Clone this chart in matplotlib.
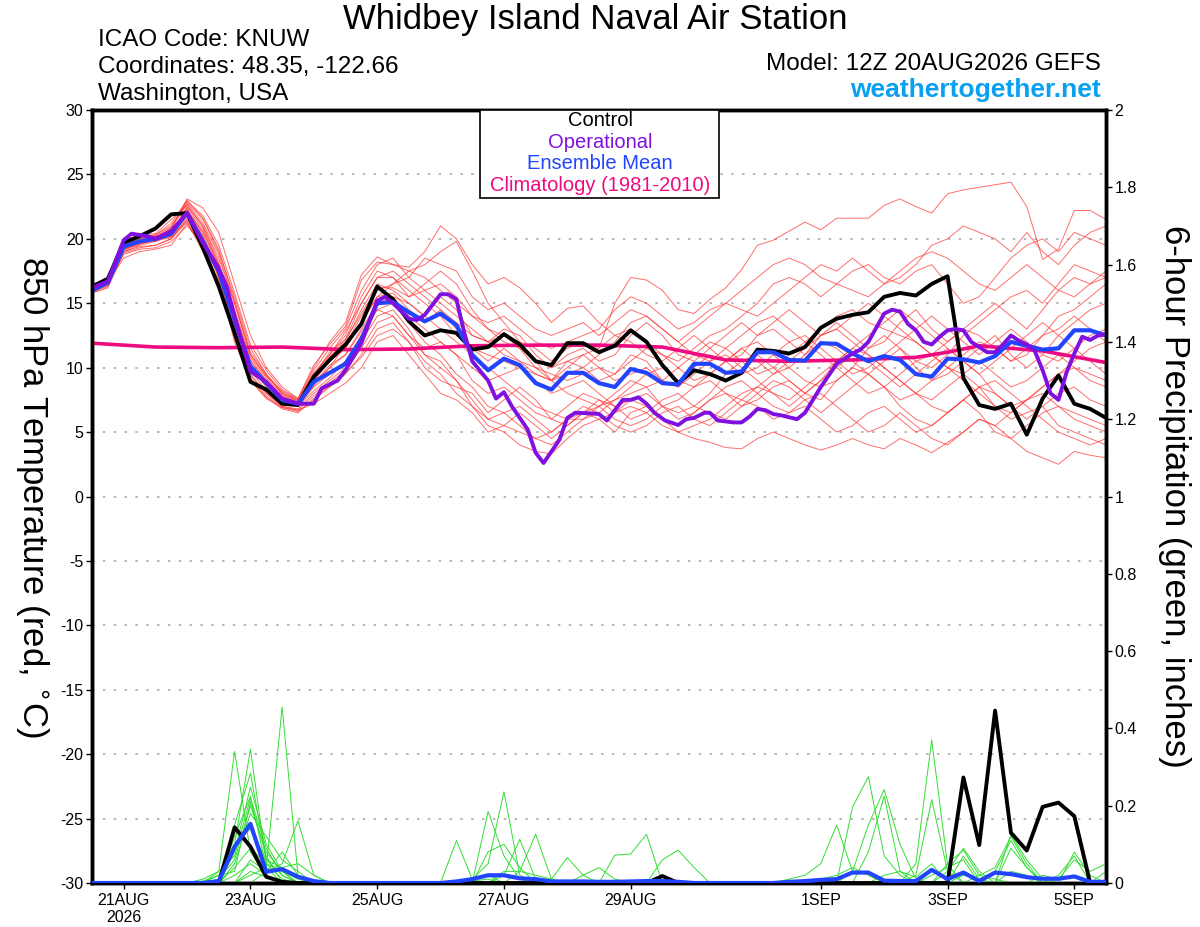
import numpy as np
import matplotlib
matplotlib.use("Agg")
import matplotlib.pyplot as plt
from matplotlib.patches import Rectangle

plt.rcParams["font.family"] = ["Liberation Sans", "DejaVu Sans"]
plt.rcParams["axes.unicode_minus"] = False

# forecast steps: every 6 h from 12Z 20AUG2026
HOURS = np.arange(65) * 6

TICK_HOURS = [12, 60, 108, 156, 204, 276, 324, 372]
TICK_LABELS = ["21AUG\n2026", "23AUG", "25AUG", "27AUG", "29AUG", "1SEP", "3SEP", "5SEP"]

# control run, 850 hPa temperature (C)
control_temp = [
    16.3, 16.9, 19.7, 20.2, 20.8, 21.9, 22.0, 19.3, 16.3, 12.7, 8.9, 8.3, 7.2, 7.1, 9.3,
    10.6, 11.8, 13.4, 16.3, 15.3, 13.6, 12.5, 12.9, 12.7, 11.4, 11.6, 12.6, 11.8, 10.5, 10.2, 11.9,
    11.9, 11.2, 11.7, 12.9, 12.0, 10.2, 8.8, 9.8, 9.5, 9.0, 9.6, 11.4, 11.3, 11.1, 11.6, 13.1, 13.8,
    14.1, 14.3, 15.5, 15.8, 15.6, 16.5, 17.1, 9.2, 7.1, 6.8, 7.2, 4.8, 7.6, 9.4, 7.2, 6.8, 6.1,
]

# ensemble mean, 850 hPa temperature (C)
mean_temp = [
    16.0, 16.6, 19.4, 19.8, 20.0, 20.4, 22.0, 19.8, 17.5, 13.7, 10.1, 8.8, 7.5, 7.2, 8.9,
    9.6, 10.3, 12.2, 15.0, 15.1, 14.3, 13.6, 14.2, 13.3, 11.0, 9.8, 10.7, 10.2, 8.8, 8.3, 9.6,
    9.6, 8.8, 8.5, 9.9, 9.6, 8.8, 8.7, 10.3, 10.3, 9.6, 9.7, 11.2, 11.2, 10.6, 10.55, 11.9, 11.85,
    11.1, 10.5, 10.9, 10.6, 9.5, 9.3, 10.7, 10.65, 10.4, 10.9, 12.0, 11.7, 11.4, 11.5, 12.9, 12.9, 12.5,
]

# operational run (finer time steps)
op_hours = [
    0, 6, 12, 15, 21, 24, 30, 36, 42, 48, 51, 54, 60, 66, 72, 78, 84, 87, 93, 96,
    102, 108, 111, 114, 120, 123, 126, 132, 135, 138, 141, 144, 150, 153, 156, 159, 165, 168, 171, 177,
    180, 183, 189, 192, 195, 201, 204, 207, 210, 213, 217, 222, 225, 228, 232, 234, 237, 243, 246, 249,
    252, 255, 258, 261, 267, 270, 276, 282, 288, 291, 294, 297, 300, 303, 306, 309, 312, 315, 318, 321,
    324, 327, 330, 333, 336, 339, 342, 345, 348, 351, 354, 357, 360, 363, 366, 369, 372, 375, 378, 381, 384,
]
op_temp = [
    16.2, 16.7, 19.9, 20.4, 20.2, 20.0, 20.6, 22.0, 19.7, 17.7, 16.3, 14.0, 9.7, 8.9, 7.6, 7.2, 7.2, 8.4, 9.0, 9.8,
    11.9, 15.2, 15.5, 15.0, 13.8, 13.7, 14.1, 15.7, 15.7, 15.3, 12.7, 10.5, 9.0, 7.6, 8.1, 7.0, 5.2, 3.4, 2.6, 4.4,
    6.1, 6.5, 6.45, 6.4, 5.9, 7.5, 7.5, 7.7, 7.2, 6.5, 5.9, 5.55, 6.0, 6.1, 6.5, 6.5, 5.9, 5.75, 5.75, 6.2,
    6.8, 6.7, 6.4, 6.3, 6.0, 6.5, 8.5, 10.3, 11.1, 11.4, 12.0, 13.1, 14.2, 14.5, 14.35, 13.4, 12.9, 12.0, 11.8, 12.4,
    12.9, 13.0, 12.9, 12.0, 11.6, 11.2, 11.2, 11.8, 12.5, 12.1, 11.8, 11.3, 9.8, 8.0, 7.5, 9.6, 11.1, 12.4, 12.15, 12.5, 12.6,
]

# climatology (1981-2010)
clim_hours = [0, 24, 48, 72, 96, 120, 144, 168, 192, 216, 240, 264, 288, 312, 324, 336, 360, 384]
clim_temp = [11.9, 11.6, 11.55, 11.6, 11.4, 11.45, 11.7, 11.75, 11.75, 11.6, 10.6, 10.5, 10.6, 10.8, 11.2, 11.7, 11.3, 10.4]

# ensemble members, 850 hPa temperature (C)
member_temp = [
    [16.2, 16.8, 19.6, 20.0, 20.3, 21.0, 22.8, 21.5, 19.0, 15.5, 11.5, 9.5, 8.0, 7.4, 9.5,
     11.0, 12.5, 15.5, 17.5, 17.0, 15.5, 16.0, 16.5, 15.5, 14.0, 13.0, 12.5, 12.0, 11.5, 10.5, 11.5,
     12.0, 11.5, 15.0, 17.0, 16.8, 16.0, 14.5, 14.2, 15.3, 16.2, 17.6, 19.5, 19.9, 20.6, 21.3, 20.7, 21.6,
     21.6, 21.6, 22.6, 23.1, 22.5, 22.0, 23.5, 23.8, 24.0, 24.2, 24.4, 22.5, 18.4, 19.2, 22.2, 22.2, 21.5],
    [16.0, 16.5, 19.2, 19.6, 20.0, 20.8, 23.1, 22.4, 20.5, 16.5, 12.5, 10.0, 8.5, 7.6, 10.0,
     12.0, 13.5, 17.2, 18.6, 18.0, 17.8, 19.0, 21.0, 20.0, 18.0, 16.5, 17.0, 16.2, 15.0, 13.5, 14.6,
     14.8, 13.5, 12.5, 13.0, 12.0, 11.0, 10.5, 11.5, 12.5, 13.0, 14.0, 15.0, 16.5, 17.0, 16.5, 15.5, 16.5,
     17.5, 18.0, 17.0, 16.5, 17.5, 18.0, 16.5, 15.0, 15.5, 17.0, 18.5, 19.5, 20.0, 19.0, 20.5, 20.0, 19.5],
    [16.1, 16.7, 19.0, 19.4, 19.5, 20.0, 21.5, 20.0, 17.0, 13.0, 9.5, 8.0, 7.0, 6.8, 8.0,
     9.0, 10.0, 12.0, 14.0, 14.5, 13.0, 11.0, 10.0, 9.0, 7.0, 5.5, 5.0, 4.0, 3.5, 3.3, 4.5,
     5.5, 6.0, 5.0, 6.5, 7.0, 6.0, 5.5, 6.5, 7.5, 8.0, 7.0, 7.5, 8.5, 9.0, 8.0, 7.5, 9.0,
     10.0, 9.5, 8.5, 7.0, 6.0, 5.5, 6.5, 7.5, 6.5, 5.0, 4.5, 5.5, 6.5, 7.0, 6.0, 5.5, 5.0],
    [15.9, 16.4, 19.3, 19.9, 20.1, 20.6, 22.2, 20.5, 17.8, 14.0, 10.5, 9.0, 7.8, 7.3, 9.0,
     10.5, 11.5, 13.5, 15.5, 15.8, 14.5, 13.5, 14.5, 13.0, 11.5, 10.5, 11.5, 10.5, 9.5, 9.0, 10.5,
     10.0, 9.0, 9.5, 11.0, 10.5, 9.0, 8.5, 10.0, 11.0, 10.5, 11.0, 12.5, 13.0, 12.0, 11.0, 12.5, 13.5,
     12.5, 11.5, 12.0, 13.5, 14.5, 13.0, 12.0, 13.0, 14.0, 15.0, 14.0, 13.0, 14.5, 16.0, 17.0, 16.5, 17.5],
    [16.3, 16.9, 19.5, 19.7, 19.8, 20.3, 21.8, 19.5, 17.2, 13.5, 10.0, 8.5, 7.2, 7.0, 8.5,
     9.5, 10.5, 12.5, 14.5, 14.0, 12.5, 11.5, 12.0, 11.0, 9.0, 8.0, 8.5, 7.5, 6.5, 6.0, 7.0,
     8.0, 7.5, 6.5, 7.5, 8.0, 7.0, 6.0, 6.5, 7.5, 8.5, 9.0, 8.0, 7.0, 6.5, 7.5, 8.0, 7.0,
     6.0, 5.0, 5.5, 6.5, 5.5, 4.5, 4.0, 5.0, 6.0, 5.5, 4.5, 3.5, 3.0, 2.5, 3.5, 3.2, 3.0],
    [16.0, 16.6, 18.8, 19.2, 19.3, 19.8, 21.0, 19.6, 16.6, 12.5, 9.2, 7.8, 6.9, 6.6, 7.5,
     8.5, 9.5, 11.0, 13.0, 13.5, 12.0, 10.0, 9.0, 8.5, 8.0, 6.5, 7.5, 8.5, 7.5, 6.0, 5.5,
     6.5, 7.0, 8.0, 9.0, 8.5, 7.0, 6.5, 7.0, 8.0, 9.5, 10.5, 11.0, 10.0, 9.0, 8.0, 9.0, 10.0,
     11.0, 10.5, 9.5, 8.5, 9.5, 10.5, 11.5, 10.5, 9.5, 8.0, 7.0, 7.5, 8.5, 9.5, 10.0, 9.0, 8.5],
    [16.4, 17.0, 19.9, 20.3, 20.4, 21.5, 22.6, 21.0, 18.5, 15.0, 11.0, 9.3, 8.2, 7.5, 9.8,
     11.5, 13.0, 16.0, 18.0, 18.5, 17.0, 18.5, 18.0, 17.5, 15.5, 14.5, 15.0, 14.0, 13.0, 12.5, 13.0,
     13.5, 12.5, 13.5, 14.5, 14.0, 13.0, 12.0, 13.0, 14.0, 15.0, 14.5, 14.0, 15.0, 16.0, 17.0, 18.0, 17.5,
     18.5, 17.5, 16.5, 17.0, 18.0, 19.5, 20.0, 21.0, 20.5, 20.0, 19.0, 20.5, 19.0, 18.0, 19.5, 20.5, 21.0],
    [15.8, 16.3, 19.0, 19.5, 19.8, 20.2, 22.0, 20.2, 17.0, 13.2, 9.8, 8.2, 7.2, 7.0, 8.2,
     9.2, 10.5, 12.5, 14.5, 15.0, 13.5, 12.0, 11.0, 9.5, 8.5, 7.0, 6.5, 5.5, 4.5, 4.0, 5.0,
     6.0, 7.0, 7.5, 8.5, 9.5, 10.0, 9.0, 8.5, 9.5, 10.5, 11.5, 10.5, 9.5, 10.0, 11.0, 12.0, 11.5,
     10.5, 9.5, 10.5, 11.5, 10.0, 9.0, 9.5, 10.5, 11.5, 12.5, 11.0, 10.0, 11.0, 12.5, 13.5, 14.5, 15.0],
    [16.2, 16.8, 19.4, 19.9, 20.2, 20.5, 22.4, 20.8, 18.0, 14.5, 10.8, 9.2, 7.9, 7.3, 9.2,
     10.8, 12.0, 14.5, 16.5, 16.0, 15.0, 14.0, 15.5, 14.5, 12.5, 12.0, 13.0, 12.5, 11.0, 10.0, 11.0,
     11.5, 10.5, 11.0, 12.5, 13.5, 12.5, 11.0, 10.5, 11.5, 12.5, 13.5, 12.5, 13.5, 14.5, 13.5, 12.5, 13.0,
     14.0, 15.0, 14.0, 13.0, 12.0, 11.0, 12.0, 13.0, 12.5, 11.5, 10.5, 11.5, 12.5, 13.0, 14.0, 13.0, 12.0],
    [16.1, 16.6, 18.5, 19.0, 19.2, 19.5, 21.2, 19.4, 16.8, 12.0, 9.0, 7.6, 6.9, 6.7, 7.2,
     8.0, 8.8, 10.0, 12.0, 12.5, 11.0, 9.5, 8.0, 7.5, 6.5, 5.0, 5.5, 6.5, 5.5, 4.5, 5.5,
     6.5, 7.5, 7.0, 6.0, 6.5, 7.5, 8.0, 7.0, 6.5, 6.0, 7.0, 8.0, 9.0, 8.5, 7.5, 6.5, 7.5,
     8.5, 9.5, 8.5, 7.5, 8.0, 9.0, 10.0, 9.5, 8.5, 7.0, 6.0, 6.5, 7.0, 5.5, 5.0, 4.5, 4.0],
    [16.0, 16.5, 19.1, 19.6, 19.9, 20.4, 22.5, 21.0, 18.2, 14.2, 10.3, 8.7, 7.5, 7.1, 8.8,
     10.0, 11.0, 13.0, 15.0, 15.5, 14.0, 13.0, 12.0, 11.0, 10.0, 9.0, 9.5, 10.0, 9.0, 8.0, 8.5,
     9.0, 8.0, 7.0, 7.5, 7.0, 6.0, 5.0, 4.5, 4.2, 3.8, 3.7, 4.5, 5.0, 4.5, 4.0, 3.6, 4.0,
     4.5, 4.0, 3.7, 4.5, 4.0, 3.4, 4.2, 5.0, 6.0, 5.5, 6.5, 7.5, 8.0, 7.0, 6.5, 6.0, 5.5],
    [16.3, 16.9, 19.7, 20.1, 20.2, 20.9, 22.9, 21.8, 19.5, 15.8, 11.8, 9.8, 8.3, 7.6, 10.2,
     11.8, 13.2, 16.8, 18.2, 18.0, 17.5, 17.0, 16.0, 15.0, 14.0, 13.5, 14.0, 13.0, 12.0, 11.5, 12.0,
     12.5, 13.0, 14.5, 15.5, 15.0, 14.0, 13.0, 13.5, 14.5, 15.0, 16.0, 17.0, 18.0, 18.5, 18.0, 17.0, 16.5,
     16.0, 15.5, 16.5, 17.5, 18.5, 19.0, 18.5, 17.5, 16.5, 16.0, 17.0, 18.0, 17.0, 16.0, 15.5, 16.5, 17.0],
    [15.9, 16.4, 19.2, 19.8, 20.0, 20.6, 22.3, 20.3, 17.5, 13.8, 10.2, 8.8, 7.6, 7.1, 8.6,
     10.0, 11.8, 14.0, 16.0, 16.5, 17.5, 18.0, 19.0, 19.8, 17.5, 15.0, 13.5, 12.0, 10.5, 9.0, 8.0,
     7.5, 7.0, 6.0, 5.5, 6.0, 7.0, 7.5, 8.5, 9.0, 8.0, 7.5, 8.5, 9.5, 10.5, 11.5, 12.5, 13.0,
     12.0, 11.0, 10.0, 9.0, 8.0, 7.5, 8.5, 9.5, 10.5, 9.5, 8.5, 9.0, 10.0, 11.0, 10.0, 9.5, 9.0],
    [16.2, 16.7, 19.3, 19.7, 19.9, 20.1, 21.6, 19.8, 17.3, 13.6, 10.0, 8.6, 7.4, 7.0, 8.8,
     10.2, 11.0, 12.8, 14.8, 15.5, 15.0, 14.0, 13.0, 12.0, 11.0, 10.0, 9.0, 8.0, 7.0, 6.5, 6.0,
     6.0, 6.5, 7.5, 8.0, 8.5, 9.0, 10.0, 11.0, 12.0, 11.5, 10.5, 9.5, 10.0, 11.0, 12.0, 13.0, 14.0,
     14.5, 13.5, 13.0, 12.5, 12.0, 11.0, 10.0, 11.0, 12.0, 11.5, 10.5, 11.0, 12.5, 14.0, 14.5, 15.5, 16.5],
    [16.0, 16.6, 19.5, 20.0, 20.1, 20.7, 22.1, 20.0, 17.6, 14.3, 10.6, 9.0, 7.7, 7.2, 9.4,
     11.2, 12.2, 14.2, 16.2, 16.2, 15.5, 16.5, 17.5, 16.5, 14.5, 13.0, 12.0, 11.5, 10.0, 9.5, 9.0,
     9.5, 10.0, 9.5, 10.5, 11.5, 11.0, 10.0, 9.0, 9.5, 10.5, 11.5, 12.0, 11.0, 10.0, 9.0, 8.5, 9.0,
     10.0, 11.5, 12.5, 11.5, 10.5, 10.0, 11.0, 12.5, 13.5, 14.5, 15.5, 16.0, 15.0, 16.5, 18.0, 17.5, 17.0],
    [16.1, 16.8, 19.2, 19.6, 20.0, 20.2, 21.4, 19.2, 16.6, 12.8, 9.4, 8.0, 7.0, 6.7, 7.8,
     8.8, 9.8, 11.5, 13.5, 14.0, 12.5, 11.0, 10.5, 9.0, 7.5, 6.0, 6.5, 7.0, 6.0, 5.0, 6.0,
     7.0, 6.5, 5.5, 5.0, 5.5, 6.5, 7.0, 6.0, 5.5, 6.5, 7.5, 7.0, 6.0, 6.5, 7.0, 6.0, 5.0,
     5.5, 6.5, 7.0, 6.0, 5.0, 5.5, 6.5, 7.5, 8.5, 9.0, 8.0, 7.0, 6.0, 5.0, 4.5, 4.0, 4.5],
    [16.4, 16.9, 19.8, 20.2, 20.3, 21.2, 23.0, 21.6, 19.2, 15.2, 11.2, 9.5, 8.1, 7.5, 9.6,
     11.0, 12.8, 15.0, 17.0, 17.5, 16.5, 15.5, 14.5, 13.5, 12.5, 12.0, 12.5, 11.5, 10.5, 10.0, 10.5,
     11.0, 11.5, 12.5, 12.0, 11.0, 10.5, 11.5, 12.5, 11.5, 10.5, 9.5, 10.0, 11.0, 12.0, 12.5, 11.5, 10.5,
     9.5, 10.0, 11.0, 12.0, 13.0, 14.0, 13.0, 12.0, 11.0, 12.0, 13.0, 12.0, 11.0, 10.5, 11.5, 12.5, 13.0],
    [15.8, 16.2, 18.9, 19.3, 19.5, 20.0, 21.3, 19.0, 16.5, 12.2, 9.0, 7.7, 6.8, 6.5, 7.6,
     8.6, 9.6, 10.8, 12.5, 13.0, 12.0, 10.5, 9.5, 8.0, 7.0, 6.0, 5.5, 5.0, 4.5, 5.0, 6.0,
     6.5, 6.0, 6.5, 7.0, 6.5, 5.5, 5.0, 5.5, 6.0, 7.0, 8.0, 8.5, 8.0, 7.5, 8.5, 9.5, 10.5,
     11.5, 12.5, 13.5, 14.5, 13.5, 12.5, 11.5, 10.5, 9.5, 10.5, 11.5, 12.5, 13.5, 12.5, 11.5, 10.5, 9.5],
    [16.2, 16.7, 19.6, 19.9, 20.1, 20.8, 22.7, 21.2, 18.8, 15.0, 11.0, 9.4, 8.0, 7.4, 9.2,
     10.8, 12.2, 15.0, 17.0, 17.0, 16.0, 15.0, 14.0, 12.5, 11.5, 11.0, 10.5, 10.0, 9.5, 9.0, 10.0,
     11.0, 10.0, 9.0, 9.5, 10.0, 9.0, 8.5, 9.5, 10.5, 11.0, 10.0, 9.0, 8.0, 7.0, 8.0, 9.0, 10.5,
     11.5, 11.0, 10.0, 9.0, 8.0, 7.0, 6.5, 7.5, 8.5, 8.0, 7.0, 6.0, 7.0, 8.0, 8.5, 7.5, 7.0],
    [16.0, 16.5, 19.4, 19.8, 20.0, 20.5, 22.2, 20.6, 18.0, 14.0, 10.3, 8.9, 7.6, 7.2, 9.0,
     10.5, 11.5, 13.5, 15.5, 16.5, 17.0, 16.0, 15.0, 14.0, 13.0, 12.0, 11.0, 10.5, 10.0, 9.0, 9.5,
     10.0, 11.0, 12.0, 13.5, 14.0, 13.0, 12.0, 11.0, 10.5, 11.5, 12.5, 13.5, 14.0, 13.0, 12.0, 11.0, 10.0,
     9.0, 8.0, 8.5, 9.5, 10.5, 11.0, 10.0, 9.0, 8.0, 7.0, 6.5, 7.5, 8.5, 9.5, 10.5, 11.5, 12.0],
]

# 6-hour precipitation (inches): control and ensemble mean, step index -> value
control_precip = {9: 0.144, 10: 0.094, 11: 0.016, 12: 0.003, 36: 0.018,
                  55: 0.273, 56: 0.098, 57: 0.446, 58: 0.13, 59: 0.084, 60: 0.197, 61: 0.208, 62: 0.173}
mean_precip = {8: 0.005, 9: 0.094, 10: 0.153, 11: 0.029, 12: 0.036, 13: 0.016, 14: 0.005,
               23: 0.004, 24: 0.01, 25: 0.02, 26: 0.02, 27: 0.012, 28: 0.01, 29: 0.004, 30: 0.004, 31: 0.004,
               32: 0.003, 33: 0.003, 34: 0.004, 35: 0.005, 36: 0.005, 37: 0.003,
               44: 0.003, 45: 0.005, 46: 0.008, 47: 0.01, 48: 0.027, 49: 0.027, 50: 0.006, 51: 0.005,
               52: 0.005, 53: 0.034, 54: 0.01, 55: 0.027, 56: 0.005, 57: 0.027, 58: 0.023, 59: 0.015,
               60: 0.011, 61: 0.011, 62: 0.017, 63: 0.003, 64: 0.003}

# ensemble members, 6-hour precipitation (inches), step index -> value
member_precip = [
    {7: 0.01, 8: 0.03, 9: 0.34, 10: 0.08, 11: 0.02, 23: 0.11, 24: 0.01, 25: 0.02,
     44: 0.01, 45: 0.02, 46: 0.05, 47: 0.15, 48: 0.03, 49: 0.03},
    {8: 0.02, 9: 0.10, 10: 0.346, 11: 0.05, 12: 0.01, 25: 0.185, 26: 0.07, 27: 0.01,
     48: 0.196, 49: 0.275, 50: 0.07, 51: 0.02},
    {9: 0.15, 10: 0.284, 11: 0.06, 12: 0.02, 24: 0.01, 25: 0.05, 26: 0.236, 27: 0.02,
     48: 0.03, 49: 0.15, 50: 0.242, 51: 0.10, 52: 0.01},
    {9: 0.08, 10: 0.248, 11: 0.10, 12: 0.03, 25: 0.081, 26: 0.10, 27: 0.04,
     49: 0.08, 50: 0.225, 51: 0.03},
    {9: 0.12, 10: 0.224, 11: 0.04, 26: 0.02, 27: 0.113, 28: 0.01,
     52: 0.05, 53: 0.37, 54: 0.047},
    {8: 0.01, 9: 0.06, 10: 0.20, 11: 0.08, 12: 0.03, 13: 0.01, 27: 0.03, 28: 0.126, 29: 0.01,
     52: 0.02, 53: 0.216, 54: 0.03},
    {10: 0.02, 11: 0.04, 12: 0.455, 13: 0.02, 29: 0.01, 30: 0.066, 31: 0.02,
     54: 0.05, 55: 0.085, 56: 0.02, 57: 0.04, 58: 0.12, 59: 0.05},
    {11: 0.03, 12: 0.05, 13: 0.161, 14: 0.02, 26: 0.03, 27: 0.03, 28: 0.02, 29: 0.01,
     54: 0.03, 55: 0.09, 56: 0.03, 58: 0.125, 59: 0.06, 60: 0.01},
    {9: 0.05, 10: 0.18, 11: 0.12, 12: 0.06, 13: 0.03, 33: 0.072, 34: 0.075, 35: 0.126,
     55: 0.07, 56: 0.01, 57: 0.03, 58: 0.11, 59: 0.04, 62: 0.08, 63: 0.02},
    {9: 0.10, 10: 0.14, 11: 0.06, 12: 0.04, 13: 0.05, 14: 0.02, 36: 0.06, 37: 0.085, 38: 0.04,
     46: 0.01, 47: 0.02, 48: 0.04, 49: 0.02, 53: 0.02, 54: 0.04, 55: 0.06},
    {8: 0.03, 9: 0.07, 10: 0.22, 11: 0.09, 12: 0.02, 31: 0.02, 32: 0.04, 33: 0.01,
     56: 0.02, 57: 0.01, 60: 0.02, 61: 0.01, 62: 0.06, 63: 0.03, 64: 0.05},
    {9: 0.04, 10: 0.09, 11: 0.05, 12: 0.03, 58: 0.09, 59: 0.04, 61: 0.02, 62: 0.07, 64: 0.03},
    {7: 0.005, 8: 0.02, 9: 0.03, 10: 0.21, 11: 0.07, 50: 0.02, 51: 0.03, 52: 0.015, 53: 0.05},
    {10: 0.06, 11: 0.03, 12: 0.08, 13: 0.02, 24: 0.005, 25: 0.01},
    {9: 0.02, 10: 0.05, 11: 0.02, 55: 0.02, 56: 0.01},
    {10: 0.03, 11: 0.015, 58: 0.03, 59: 0.02},
]


def steps_to_series(values):
    out = np.zeros(len(HOURS))
    for k, v in values.items():
        out[k] = v
    return out


fig = plt.figure(figsize=(12, 9.27), dpi=100)
ax = fig.add_axes([92 / 1200, 1 - 883 / 927, 1014 / 1200, 773 / 927])
ax2 = ax.twinx()

# temperature
for row in member_temp:
    ax.plot(HOURS, row, color="#ff3030", lw=0.7, alpha=0.7, zorder=2)
ax.plot(clim_hours, clim_temp, color="#ee0a80", lw=2.6, zorder=4)
ax.plot(HOURS, control_temp, color="black", lw=2.8, zorder=5)
ax.plot(HOURS, mean_temp, color="#2244ff", lw=3.0, zorder=6)
ax.plot(op_hours, op_temp, color="#8010e0", lw=2.8, zorder=7)

# precipitation
for row in member_precip:
    ax2.plot(HOURS, steps_to_series(row), color="#33dd33", lw=0.7, zorder=2)
ax2.plot(HOURS, steps_to_series(control_precip), color="black", lw=2.8, zorder=5)
ax2.plot(HOURS, steps_to_series(mean_precip), color="#2244ff", lw=3.0, zorder=6)

ax.set_xlim(0, 384)
ax.set_ylim(-30, 30)
ax2.set_ylim(0, 2)
ax.set_yticks(np.arange(-30, 31, 5))
ax2.set_yticks(np.arange(0, 2.01, 0.2))
ax2.set_yticklabels([f"{v:g}" for v in np.arange(0, 2.01, 0.2).round(1)])
ax.set_xticks(TICK_HOURS)
ax.set_xticklabels(TICK_LABELS)

for y in range(-25, 30, 5):
    ax.axhline(y, color="#aaaaaa", lw=1.2, ls=(0, (1.5, 5)), zorder=1)

for a in (ax, ax2):
    for s in a.spines.values():
        s.set_linewidth(2.5)
    a.tick_params(labelsize=11.5, length=4, width=1, direction="out", pad=2)
ax.tick_params(axis="x", pad=3)

ax.set_ylabel("850 hPa Temperature (red, $^{\\circ}$C)", fontsize=25, rotation=270,
              va="center", ha="center")
ax2.set_ylabel("6-hour Precipitation (green, inches)", fontsize=25, rotation=270,
               va="center", ha="center")
ax.yaxis.set_label_coords(-0.059, 0.5)
ax2.yaxis.set_label_coords(1.068, 0.5)

# legend box
ax2.add_patch(Rectangle((0.3826, 0.886), 0.2357, 0.114, transform=ax2.transAxes,
                        facecolor="white", edgecolor="black", lw=1.2, zorder=10))
legend_rows = [("Control", "black"), ("Operational", "#8010e0"),
               ("Ensemble Mean", "#2244ff"), ("Climatology (1981-2010)", "#ee0a80")]
for k, (txt, col) in enumerate(legend_rows):
    ax2.text(0.501, 0.986 - k * 0.0277, txt, color=col, fontsize=14.5, ha="center", va="center",
             transform=ax2.transAxes, zorder=11)

# header texts
fig.text(0.496, 1 - 20 / 927, "Whidbey Island Naval Air Station", fontsize=25, ha="center", va="center")
fig.text(98 / 1200, 1 - 40 / 927, "ICAO Code: KNUW", fontsize=17.5, va="center")
fig.text(98 / 1200, 1 - 67 / 927, "Coordinates: 48.35, -122.66", fontsize=17.5, va="center")
fig.text(98 / 1200, 1 - 94 / 927, "Washington, USA", fontsize=17.5, va="center")
fig.text(1101 / 1200, 1 - 64 / 927, "Model: 12Z 20AUG2026 GEFS", fontsize=17.5, ha="right", va="center")
fig.text(1101 / 1200, 1 - 90 / 927, "weathertogether.net", fontsize=19, ha="right", va="center",
         color="#08a0f0", fontweight="bold")

fig.savefig("out.png", dpi=100)
